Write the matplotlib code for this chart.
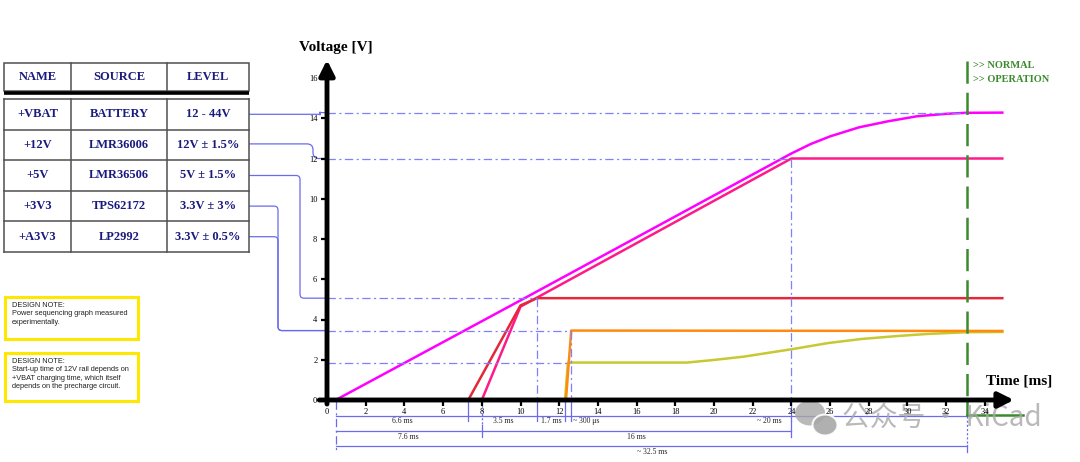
import matplotlib
matplotlib.use('Agg')
import matplotlib.pyplot as plt
import matplotlib.transforms as mtrans
from matplotlib.path import Path
from matplotlib.patches import PathPatch, Rectangle, Ellipse

plt.rcParams['lines.scale_dashes'] = False
plt.rcParams['font.family'] = ['Liberation Serif', 'DejaVu Serif']

# ---------------- data ----------------
header = ['NAME', 'SOURCE', 'LEVEL']
rail_names = ['+VBAT', '+12V', '+5V', '+3V3', '+A3V3']
rail_sources = ['BATTERY', 'LMR36006', 'LMR36506', 'TPS62172', 'LP2992']
rail_levels = ['12 - 44V', '12V ± 1.5%', '5V ± 1.5%', '3.3V ± 3%', '3.3V ± 0.5%']

vbat_t = [0.45, 10, 24, 25, 26, 27.5, 29, 30.5, 32, 33, 34.9]
vbat_v = [0, 4.95, 12.25, 12.72, 13.1, 13.55, 13.85, 14.1, 14.22, 14.27, 14.28]
v12_t = [8.0, 10.0, 24.0, 34.9]
v12_v = [0, 4.64, 12.0, 12.0]
v5_t = [7.3, 10.0, 10.85, 34.9]
v5_v = [0, 4.7, 5.06, 5.06]
v3v3_t = [12.35, 12.62, 34.9]
v3v3_v = [0, 3.45, 3.43]
a3v3_t = [12.3, 12.45, 18.6, 20, 21.5, 24, 25.9, 27.6, 29.5, 31, 33.1, 34.9]
a3v3_v = [0, 1.86, 1.86, 1.99, 2.15, 2.52, 2.83, 3.03, 3.18, 3.28, 3.37, 3.38]

guide_levels = [14.28, 12.0, 5.06, 3.45, 1.86]
guide_ends = [33.1, 24.0, 10.85, 12.62, 12.62]
vguide_t = [24.0, 10.85, 12.62]
vguide_v = [12.0, 5.06, 3.45]

x_ticks = list(range(0, 35, 2))
y_ticks = list(range(0, 17, 2))

t_normal = 33.1
row1_span = (0.45, 33.1)
row1_marks = [7.3, 10.85, 12.3, 12.62, 24.0]
row1_labels = [('6.6 ms', 3.9, 'center'), ('3.5 ms', 9.1, 'center'),
               ('1.7 ms', 11.6, 'center'), ('~ 300 μs', 12.7, 'left'),
               ('~ 20 ms', 23.5, 'right')]
row2_span = (0.45, 24.0)
row2_labels = [('7.6 ms', 4.2, 'center'), ('16 ms', 16.0, 'center')]
row3_span = (0.45, 33.1)
row3_labels = [('~ 32.5 ms', 16.8, 'center')]

note1 = "DESIGN NOTE:\nPower sequencing graph measured\nexperimentally."
note2 = ("DESIGN NOTE:\nStart-up time of 12V rail depends on\n"
         "+VBAT charging time, which itself\ndepends on the precharge circuit.")

# ---------------- figure ----------------
W, H = 1080, 462
fig = plt.figure(figsize=(W / 100, H / 100), dpi=100)
ov = fig.add_axes([0, 0, 1, 1])
ov.set_xlim(0, W)
ov.set_ylim(H, 0)
ov.axis('off')

XS, YS = 19.35, 20.125
x0px, y0px = 327, 400
XMAX, YMAX = 35.5, 16.9
ax = fig.add_axes([x0px / W, (H - y0px) / H, XMAX * XS / W, YMAX * YS / H])
ax.set_xlim(0, XMAX)
ax.set_ylim(0, YMAX)
ax.patch.set_visible(False)
for s in ax.spines.values():
    s.set_visible(False)
ax.set_xticks(x_ticks)
ax.set_yticks(y_ticks)
ax.tick_params(axis='both', direction='out', length=4, width=1.6,
               labelsize=6, pad=2, colors='black')
ax.tick_params(axis='y', pad=3)

trans = mtrans.blended_transform_factory(ax.transData, ov.transData)


def to_px(t, v):
    return ov.transData.inverted().transform(ax.transData.transform((t, v)))


# axes arrows
arrow = dict(arrowstyle='-|>,head_length=0.7,head_width=0.35', lw=3.5,
             color='black', shrinkA=0, shrinkB=0, mutation_scale=13)
ax.annotate('', xy=(XMAX, 0), xytext=(-0.4, 0), arrowprops=arrow,
            annotation_clip=False, zorder=6)
ax.annotate('', xy=(0, YMAX), xytext=(0, -0.2), arrowprops=arrow,
            annotation_clip=False, zorder=6)

ov.text(336, 48, 'Voltage [V]', ha='center', va='center', fontsize=11,
        fontweight='bold')
ov.text(1019, 381, 'Time [ms]', ha='center', va='center', fontsize=11,
        fontweight='bold')

# curves
lw = 1.8
ax.plot(a3v3_t, a3v3_v, color='#c8c832', lw=lw, zorder=3, clip_on=False)
ax.plot(v3v3_t, v3v3_v, color='#ff8a10', lw=lw, zorder=3, clip_on=False)
ax.plot(v12_t, v12_v, color='#ff1a8c', lw=lw, zorder=3, clip_on=False)
ax.plot(v5_t, v5_v, color='#e3283a', lw=lw, zorder=3, clip_on=False)
ax.plot(vbat_t, vbat_v, color='#ff00ff', lw=lw, zorder=3, clip_on=False)

# guides
gcol = '#7f7fff'
gls = (0, (6, 2.5, 1.5, 2.5))
for lv, te in zip(guide_levels, guide_ends):
    ax.plot([0, te], [lv, lv], color=gcol, lw=0.9, ls=gls, zorder=4)
for tv, vv in zip(vguide_t, vguide_v):
    ax.plot([tv, tv], [vv, 0], color=gcol, lw=0.9, ls=gls, zorder=4)

# green normal-operation line
green = '#3c8a2e'
ax.plot([t_normal, t_normal], [16.82, 0], color=green, lw=1.8,
        ls=(0, (16, 6.5)), zorder=5, clip_on=False)
ov.plot([t_normal, t_normal], [400, 415], color=green, lw=1.8, transform=trans,
        zorder=5)
ov.plot([t_normal, 35.97], [415, 415], color=green, lw=1.8, transform=trans,
        zorder=5)
gx, _ = to_px(t_normal, 0)
ov.text(gx + 6, 66, '>> NORMAL', color=green, fontsize=7.5, fontweight='bold',
        ha='left', va='center')
ov.text(gx + 6, 79, '>> OPERATION', color=green, fontsize=7.5,
        fontweight='bold', ha='left', va='center')

# timing annotations
acol = '#6b6bf0'
alw = 0.9
for (a, b), y in [(row1_span, 416), (row2_span, 431), (row3_span, 446)]:
    ov.plot([a, b], [y, y], color=acol, lw=alw, transform=trans)
ov.plot([0.45, 0.45], [401, 452], color=acol, lw=alw, ls=gls, transform=trans)
for m in row1_marks:
    ov.plot([m, m], [401, 421], color=acol, lw=alw, transform=trans)
ov.plot([8.0, 8.0], [401, 425], color=acol, lw=alw, ls=(0, (1.5, 1.5)),
        transform=trans)
ov.plot([8.0, 8.0], [425, 437], color=acol, lw=alw, transform=trans)
ov.plot([24.0, 24.0], [421, 437], color=acol, lw=alw, transform=trans)
ov.plot([t_normal, t_normal], [416, 445], color=acol, lw=alw,
        ls=(0, (1.5, 1.5)), transform=trans)
ov.plot([t_normal, t_normal], [445, 452], color=acol, lw=alw, transform=trans)
for labels, y in [(row1_labels, 421), (row2_labels, 437), (row3_labels, 452)]:
    for txt, tx, ha in labels:
        ov.text(tx, y, txt, ha=ha, va='center', fontsize=5.5, color='#222222',
                transform=trans)

# table
navy = '#1a1a7e'
col_x = [4, 71, 167, 249]
tcol = '#505050'
ov.add_patch(Rectangle((col_x[0], 63), col_x[-1] - col_x[0], 28, fill=False,
                       edgecolor=tcol, lw=1.1))
for cx in col_x[1:-1]:
    ov.plot([cx, cx], [63, 91], color=tcol, lw=1.1)
ov.plot([col_x[0], col_x[-1]], [92.5, 92.5], color='black', lw=2.6,
        solid_capstyle='butt')
for i, h in enumerate(header):
    ov.text((col_x[i] + col_x[i + 1]) / 2, 77.5, h, ha='center', va='center',
            fontsize=9, fontweight='bold', color=navy)
body_top, row_h = 99, 30.6
for i in range(6):
    y = body_top + i * row_h
    ov.plot([col_x[0], col_x[-1]], [y, y], color=tcol, lw=1.1)
for cx in col_x:
    ov.plot([cx, cx], [body_top, body_top + 5 * row_h], color=tcol, lw=1.1)
rows_y = []
for r in range(5):
    yc = body_top + (r + 0.5) * row_h
    rows_y.append(yc)
    for c, col in enumerate([rail_names, rail_sources, rail_levels]):
        ov.text((col_x[c] + col_x[c + 1]) / 2, yc, col[r], ha='center',
                va='center', fontsize=9, fontweight='bold', color=navy)

# connectors from table to voltage levels
ccol = '#6a6aee'


def connector(y_start, x_turn, y_end, r=4):
    x_axis = x0px
    if abs(y_end - y_start) < 1:
        verts = [(col_x[-1], y_start), (x_axis, y_start)]
        codes = [Path.MOVETO, Path.LINETO]
    else:
        rr = min(r, abs(y_end - y_start) / 2)
        verts = [(col_x[-1], y_start), (x_turn - rr, y_start),
                 (x_turn, y_start), (x_turn, y_start + rr),
                 (x_turn, y_end - rr), (x_turn, y_end), (x_turn + rr, y_end),
                 (x_axis, y_end)]
        codes = [Path.MOVETO, Path.LINETO, Path.CURVE3, Path.CURVE3,
                 Path.LINETO, Path.CURVE3, Path.CURVE3, Path.LINETO]
    ov.add_patch(PathPatch(Path(verts, codes), fill=False, edgecolor=ccol,
                           lw=0.9))


lvl_px = [to_px(0, v)[1] for v in guide_levels]
connector(rows_y[0], 320, lvl_px[0])
connector(rows_y[1] - 1, 313, lvl_px[1], r=6)
connector(rows_y[2], 300, lvl_px[2])
connector(rows_y[3], 278, lvl_px[3])
connector(rows_y[4], 278, lvl_px[3])

# design notes
for (y, h, txt) in [(297, 42, note1), (353, 48, note2)]:
    ov.add_patch(Rectangle((5, y), 133, h, fill=True, facecolor='white',
                           edgecolor='#ffe800', lw=2.2))
    ov.text(12, y + 5, txt, ha='left', va='top', fontsize=5.3,
            family=['Liberation Sans', 'DejaVu Sans'], color='#222222',
            linespacing=1.25)

# watermark
wm = '#a8a8a8'
ov.add_patch(Ellipse((810, 413), 30, 25, facecolor=wm, edgecolor='none',
                     alpha=0.8, zorder=7))
ov.add_patch(Ellipse((825, 425), 25, 21, facecolor=wm, edgecolor='white',
                     lw=1.5, alpha=0.9, zorder=7))
ov.text(842, 418, '公众号 · KiCad', ha='left', va='center', fontsize=20,
        color=wm, alpha=0.8, family=['Noto Sans CJK SC', 'DejaVu Sans'],
        zorder=7)

fig.savefig('out.png', dpi=100)
